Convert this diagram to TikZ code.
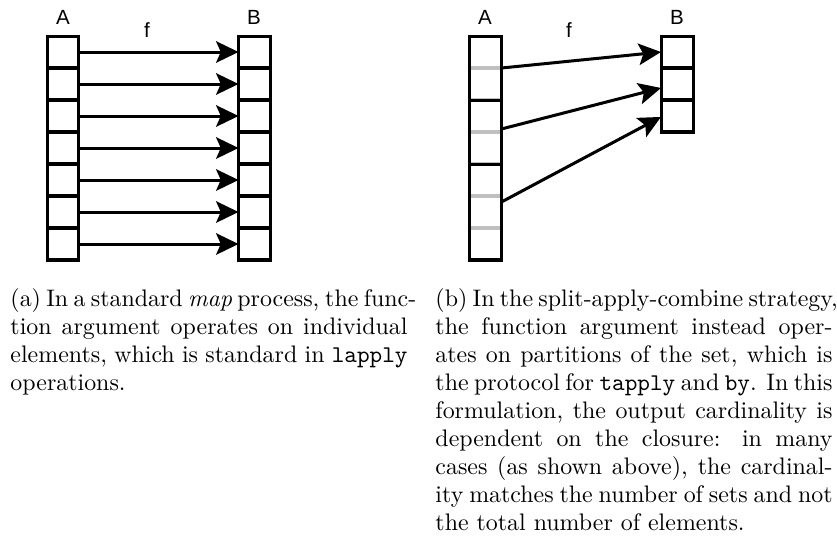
\documentclass[tikz,border=0pt]{standalone}
\usepackage{fontspec}
\newfontfamily\lblfont{Liberation Sans}
\usetikzlibrary{arrows.meta}
\newlength\capw
\setlength\capw{170.2pt}
\newcommand\mycode[1]{{\fontsize{10.3}{12}\selectfont\ttfamily #1}}
\tikzset{
  cellbox/.style={draw=black, line width=1.29pt, minimum width=13.71pt, minimum height=13.71pt, inner sep=0pt, outer sep=0pt},
  graycell/.style={cellbox, draw=black!25},
  grpbox/.style={draw=black, line width=1.29pt, minimum width=13.71pt, inner sep=0pt, outer sep=0pt},
  maparrow/.style={line width=1.29pt, -{Stealth[length=9.6pt,width=9.2pt,inset=2pt]}},
  setlabel/.style={font=\lblfont\fontsize{8.8}{10}\selectfont, inner sep=0pt, anchor=base},
  capline/.style={font=\fontsize{10.25}{12}\selectfont, inner sep=0pt, anchor=base west},
}
\begin{document}
\begin{tikzpicture}[x=0.4286pt, y=-0.4286pt]
\useasboundingbox (0,0) rectangle (837,548);
% ---- (a) map ----
\foreach \k in {1,...,7} {
  \node[cellbox] (la\k) at (63, {20+32*\k}) {};
  \node[cellbox] (lb\k) at (254.5, {20+32*\k}) {};
  \draw[maparrow] (la\k.east) -- (lb\k.west);
}
\node[setlabel] (lA) at (63,24) {A};
\node[setlabel] (lf) at (147,37) {f};
\node[setlabel] (lB) at (254,24) {B};
% ---- (b) split-apply-combine ----
\foreach \k in {1,...,7} {
  \node[graycell] (ra\k) at (485.5, {20+32*\k}) {};
}
\node[grpbox, minimum height=27.43pt] (g1) at (485.5,68) {};
\node[grpbox, minimum height=27.43pt] (g2) at (485.5,132) {};
\node[grpbox, minimum height=41.14pt] (g3) at (485.5,212) {};
\foreach \k in {1,2,3} {
  \node[cellbox] (rb\k) at (677, {20+32*\k}) {};
}
\draw[maparrow] (g1.east) -- (rb1.west);
\draw[maparrow] ([yshift=1.3pt]g2.east) -- ([yshift=-1.7pt]rb2.west);
\draw[maparrow] ([yshift=4.3pt]g3.east) -- ([yshift=-0.4pt]rb3.west);
\node[setlabel] (rA) at (485,24) {A};
\node[setlabel] (rf) at (569,37) {f};
\node[setlabel] (rB) at (677,24) {B};
% ---- captions ----
\node[capline] (ca1) at (10,306) {\hbox to \capw{(a) In a standard \emph{map} process, the func-}};
\node[capline] (ca2) at (10,334) {\hbox to \capw{tion argument operates on individual}};
\node[capline] (ca3) at (10,362) {\hbox to \capw{elements, which is standard in \mycode{lapply}}};
\node[capline] (ca4) at (10,390) {operations.};
\node[capline] (cb1) at (435,306) {\hbox to \capw{(b) In the split-apply-combine strategy,}};
\node[capline] (cb2) at (435,334) {\hbox to \capw{the function argument instead oper-}};
\node[capline] (cb3) at (435,362) {\hbox to \capw{ates on partitions of the set, which is}};
\node[capline] (cb4) at (435,390) {\hbox to \capw{the protocol for \mycode{tapply} and \mycode{by}. In this}};
\node[capline] (cb5) at (435,418) {\hbox to \capw{formulation, the output cardinality is}};
\node[capline] (cb6) at (435,446) {\hbox to \capw{dependent on the closure: in many}};
\node[capline] (cb7) at (435,474) {\hbox to \capw{cases (as shown above), the cardinal-}};
\node[capline] (cb8) at (435,502) {\hbox to \capw{ity matches the number of sets and not}};
\node[capline] (cb9) at (435,530) {the total number of elements.};
\end{tikzpicture}
\end{document}
